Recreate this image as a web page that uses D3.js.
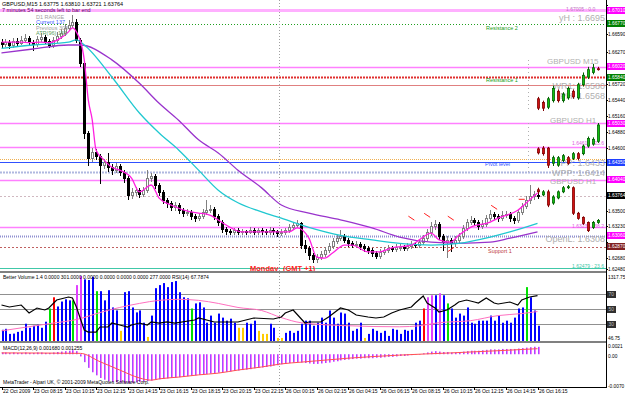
<!DOCTYPE html>
<html>
<head>
<meta charset="utf-8">
<script src="https://cdn.jsdelivr.net/npm/d3@7"></script>
<style>
body { margin: 0; background: #fff; }
svg { display: block; font-family: "Liberation Sans", Arial, sans-serif; }
</style>
</head>
<body>
<svg id="chart" width="625" height="393"></svg>
<script>

// ---- GBPUSD M15 candles ----
var opens = [1.6645,1.6642,1.6645,1.6640,1.6647,1.6644,1.6649,1.6652,1.6645,1.6642,
	1.6650,1.6654,1.6647,1.6640,1.6649,1.6656,1.6661,1.6670,1.6675,1.6680,
	1.6649,1.6608,1.6486,1.6442,1.6453,1.6446,1.6430,1.6435,1.6426,1.6421,
	1.6428,1.6418,1.6407,1.6377,1.6383,1.6386,1.6379,1.6386,1.6407,1.6411,
	1.6395,1.6383,1.6369,1.6363,1.6356,1.6360,1.6351,1.6346,1.6348,1.6341,
	1.6337,1.6341,1.6348,1.6351,1.6353,1.6341,1.6330,1.6318,1.6314,1.6313,
	1.6316,1.6313,1.6314,1.6313,1.6316,1.6313,1.6316,1.6314,1.6313,1.6316,
	1.6314,1.6311,1.6313,1.6316,1.6321,1.6325,1.6328,1.6290,1.6285,1.6272,
	1.6265,1.6269,1.6274,1.6281,1.6288,1.6297,1.6302,1.6306,1.6299,1.6293,
	1.6290,1.6292,1.6288,1.6285,1.6281,1.6276,1.6271,1.6278,1.6281,1.6285,
	1.6283,1.6286,1.6287,1.6285,1.6288,1.6292,1.6290,1.6295,1.6302,1.6313,
	1.6323,1.6327,1.6306,1.6295,1.6299,1.6293,1.6299,1.6306,1.6320,1.6330,
	1.6334,1.6330,1.6323,1.6327,1.6337,1.6344,1.6341,1.6337,1.6343,1.6344,
	1.6337,1.6334,1.6348,1.6358,1.6369,1.6376,1.63775];
var closes = [1.6642,1.6645,1.6640,1.6647,1.6644,1.6649,1.6652,1.6645,1.6642,1.6650,
	1.6654,1.6647,1.6640,1.6649,1.6656,1.6661,1.6670,1.6675,1.6680,1.6649,
	1.6608,1.6486,1.6442,1.6453,1.6446,1.6430,1.6435,1.6426,1.6421,1.6428,
	1.6418,1.6407,1.6377,1.6383,1.6386,1.6379,1.6386,1.6407,1.6411,1.6395,
	1.6383,1.6369,1.6363,1.6356,1.6360,1.6351,1.6346,1.6348,1.6341,1.6337,
	1.6341,1.6348,1.6351,1.6353,1.6341,1.6330,1.6318,1.6314,1.6313,1.6316,
	1.6313,1.6314,1.6313,1.6316,1.6313,1.6316,1.6314,1.6313,1.6316,1.6314,
	1.6311,1.6313,1.6316,1.6321,1.6325,1.6328,1.6290,1.6285,1.6272,1.6265,
	1.6269,1.6274,1.6281,1.6288,1.6297,1.6302,1.6306,1.6299,1.6293,1.6290,
	1.6292,1.6288,1.6285,1.6281,1.6276,1.6271,1.6278,1.6281,1.6285,1.6283,
	1.6286,1.6287,1.6285,1.6288,1.6292,1.6290,1.6295,1.6302,1.6313,1.6323,
	1.6327,1.6306,1.6295,1.6299,1.6293,1.6299,1.6306,1.6320,1.6330,1.6334,
	1.6330,1.6323,1.6327,1.6337,1.6344,1.6341,1.6337,1.6343,1.6344,1.6337,
	1.6334,1.6348,1.6358,1.6369,1.6376,1.6379,1.63764];
var highs = [1.6650,1.6651,1.6649,1.6653,1.6652,1.6655,1.6660,1.6656,1.6648,1.6655,
	1.6661,1.6657,1.6650,1.6654,1.6662,1.6668,1.6676,1.6683,1.6693,1.6686,
	1.6652,1.6611,1.6490,1.6460,1.6458,1.6450,1.6441,1.6451,1.6431,1.6434,
	1.6432,1.6422,1.6410,1.6389,1.6392,1.6390,1.6391,1.6421,1.6416,1.6414,
	1.6398,1.6386,1.6373,1.6367,1.6366,1.6363,1.6355,1.6353,1.6351,1.6345,
	1.6346,1.6353,1.6369,1.6360,1.6356,1.6344,1.6333,1.6321,1.6318,1.6320,
	1.6319,1.6318,1.6317,1.6321,1.6319,1.6320,1.6319,1.6318,1.6322,1.6319,
	1.6317,1.6318,1.6320,1.6326,1.6330,1.6334,1.6331,1.6299,1.6288,1.6276,
	1.6274,1.6279,1.6286,1.6293,1.6303,1.6308,1.6316,1.6310,1.6302,1.6297,
	1.6297,1.6295,1.6291,1.6288,1.6284,1.6279,1.6283,1.6286,1.6290,1.6288,
	1.6291,1.6292,1.6290,1.6293,1.6297,1.6296,1.6301,1.6308,1.6318,1.6330,
	1.6334,1.6330,1.6309,1.6305,1.6303,1.6305,1.6311,1.6325,1.6336,1.6340,
	1.6338,1.6334,1.6333,1.6343,1.6351,1.6348,1.6345,1.6349,1.6350,1.6348,
	1.6341,1.6353,1.6364,1.6375,1.6395,1.6384,1.6381];
var lows = [1.6637,1.6638,1.6635,1.6637,1.6640,1.6641,1.6646,1.6642,1.6632,1.6639,
	1.6647,1.6644,1.6636,1.6637,1.6646,1.6652,1.6658,1.6666,1.6671,1.6645,
	1.6603,1.6478,1.6430,1.6437,1.6440,1.6398,1.6424,1.6420,1.6414,1.6417,
	1.6412,1.6401,1.6371,1.6372,1.6378,1.6374,1.6375,1.6383,1.6402,1.6390,
	1.6378,1.6363,1.6357,1.6351,1.6352,1.6346,1.6341,1.6342,1.6336,1.6332,
	1.6333,1.6338,1.6345,1.6347,1.6336,1.6325,1.6313,1.6310,1.6309,1.6310,
	1.6309,1.6310,1.6309,1.6311,1.6309,1.6310,1.6310,1.6309,1.6310,1.6310,
	1.6306,1.6308,1.6310,1.6312,1.6318,1.6321,1.6285,1.6278,1.6266,1.6260,
	1.6261,1.6265,1.6270,1.6277,1.6284,1.6293,1.6298,1.6295,1.6288,1.6286,
	1.6286,1.6283,1.6280,1.6276,1.6271,1.6267,1.6268,1.6275,1.6278,1.6279,
	1.6280,1.6282,1.6281,1.6282,1.6285,1.6286,1.6287,1.6291,1.6298,1.6308,
	1.6318,1.6300,1.6282,1.6269,1.6280,1.6288,1.6294,1.6302,1.6316,1.6326,
	1.6325,1.6318,1.6319,1.6323,1.6333,1.6336,1.6332,1.6333,1.6339,1.6332,
	1.6329,1.6330,1.6344,1.6354,1.6364,1.6371,1.63721];

// moving averages, read at some bars: [bar, price]
var maFast = [[0,1.6645],[5,1.6645],[7,1.6644],[10,1.6645],[12,1.6644],[15,1.6652],[17,1.6663],[18,1.6670],
	[19,1.6663],[21,1.6614],[22,1.6545],[23,1.6510],[24,1.6456],[26,1.6439],[28,1.6426],[30,1.6421],
	[33,1.6407],[35,1.6383],[38,1.6395],[40,1.6372],[43,1.6360],[48,1.6348],[50,1.6346],[53,1.6342],
	[57,1.6325],[61,1.6313],[66,1.6313],[73,1.6313],[75,1.6320],[78,1.6302],[80,1.6269],[82,1.6267],
	[84,1.6276],[87,1.6290],[89,1.6290],[93,1.6278],[96,1.6278],[99,1.6285],[104,1.6290],[106,1.6299],
	[109,1.6311],[111,1.6299],[114,1.6295],[116,1.6307],[119,1.6321],[124,1.6330],[126,1.6337],
	[131,1.6351],[134,1.6369],[136,1.6381]];
var maMid = [[0,1.6634],[8,1.6640],[17,1.6645],[19,1.6649],[21,1.6640],[28,1.6584],[35,1.6521],
	[40,1.6486],[45,1.6456],[50,1.6421],[55,1.6386],[60,1.6364],[66,1.6348],[71,1.6337],[78,1.6321],
	[86,1.6307],[94,1.6299],[101,1.6293],[109,1.6290],[116,1.6293],[124,1.6304],[129,1.6313],[136,1.6328]];
var maSlow = [[0,1.6626],[8,1.6633],[17,1.6640],[20,1.6640],[28,1.6614],[35,1.6573],[40,1.6538],
	[45,1.6508],[50,1.6474],[55,1.6451],[60,1.6421],[66,1.6390],[71,1.6360],[78,1.6346],[86,1.6334],
	[94,1.6320],[101,1.6304],[109,1.6295],[116,1.6293],[124,1.6295],[129,1.6302],[136,1.6313]];

// red signal marks: bar, price, direction
var signalBars = [104, 108, 114, 114, 125, 132];
var signalPrices = [1.6337, 1.6342, 1.6337, 1.6282, 1.6356, 1.6370];
var signalDirs = ['down', 'down', 'down', 'up', 'down', 'flat'];

// horizontal levels
var levelNames = ['fib0', 'r2', 'fibA', 'r1', 'wr1', 'fibB', 'fibC', 'ppo', 'pp', 'wpp', 'fibD', 'bid', 'fibE', 'openL', 's1', 'fibF'];
var levelPrices = [1.6701, 1.6677, 1.6602, 1.6584, 1.6570, 1.6503, 1.6462, 1.6440, 1.6435, 1.6418, 1.6404, 1.63764, 1.6322, 1.6306, 1.6287, 1.6250];

// right axis
var priceTicks = [1.67100, 1.66830, 1.66590, 1.66270, 1.66000, 1.65720, 1.65440, 1.65160, 1.64880, 1.64600,
	1.64320, 1.64040, 1.63760, 1.63500, 1.63230, 1.62960, 1.62680, 1.62480];
var timeLabels = ['22 Oct 2009', '23 Oct 08:15', '23 Oct 10:15', '23 Oct 12:15', '23 Oct 14:15', '23 Oct 16:15',
	'23 Oct 18:15', '23 Oct 20:15', '23 Oct 22:15', '26 Oct 00:15', '26 Oct 02:15', '26 Oct 04:15',
	'26 Oct 06:15', '26 Oct 08:15', '26 Oct 10:15', '26 Oct 12:15', '26 Oct 14:15', '26 Oct 16:15'];
var timeLabelBars = [0, 8, 16, 24, 32, 40, 48, 56, 64, 72, 80, 88, 96, 104, 112, 120, 128, 136];
var mondayBar = 70.5;

// ---- Better Volume ----
var volumes = [227,247,144,150,185,206,350,268,309,330,
	268,391,659,886,700,800,845,824,824,1133,
	1317,1250,1236,1300,1010,1010,824,1030,680,620,
	206,990,1010,680,580,620,371,82,515,1071,
	1133,1174,1092,1195,1215,989,886,865,659,762,
	783,680,371,515,371,556,474,412,453,371,
	268,268,371,350,412,206,144,144,350,268,
	62,62,165,206,165,206,350,412,412,309,
	371,474,371,618,474,350,577,556,371,206,
	247,371,62,144,247,206,165,206,103,247,
	227,144,227,206,227,371,412,659,886,927,
	927,968,927,762,659,474,556,515,680,371,
	350,412,412,412,515,412,515,371,412,371,
	474,659,680,1092,886,618,309];
var lowVolBars = [30, 37, 60, 61, 65, 66, 67, 70, 71, 92];
var climaxHighBars = [13, 107];
var churnBars = [12, 18, 24, 48, 113, 133];
var climaxChurnBars = [19, 20, 108, 109, 111];
var volAvg = [[0,206],[12,350],[20,453],[25,577],[30,680],[35,762],[40,824],[45,845],[50,824],[55,762],
	[60,680],[66,618],[71,474],[76,371],[88,309],[101,288],[106,309],[111,371],[119,412],[126,515],[132,556],[136,597]];
var rsi = [[0,55.3],[2,52.7],[5,55.3],[7,44.7],[9,51.3],[11,48.7],[12,51.3],[14,62],[16,64.7],[17,66],
	[18,64.7],[19,52.7],[21,22],[22,19.3],[24,19.3],[25,26],[27,26],[28,31.3],[30,28.7],[32,26],
	[33,28.7],[35,31.3],[37,28.7],[38,32.7],[40,31.3],[42,32.7],[44,31.3],[49,35.3],[50,38],[54,32.7],
	[60,32.7],[64,38],[69,36.7],[71,39.3],[72,44.7],[74,48.7],[77,31.3],[78,32.7],[81,32.7],[83,39.3],
	[86,51.3],[88,48.7],[90,42],[93,39.3],[95,38],[97,39.3],[99,44.7],[101,48.7],[104,52.7],[105,58],
	[107,67.3],[108,58],[110,51.3],[111,46],[113,48.7],[115,55.3],[116,59.3],[118,62],[120,59.3],[121,58],
	[123,64.7],[125,58],[126,56.7],[129,59.3],[131,55.3],[132,62],[134,66],[136,67.8]];
var rsiLevels = [70, 50, 30];

// ---- MACD(12,26,9) ----
var macd = [0.0004,0.0004,0.0003,0.0004,0.0003,0.0003,0.0004,0.0003,0.0003,0.0004,
	0.0004,0.0003,0.0003,0.0004,0.0005,0.0006,0.0007,0.0008,0.0009,0.0007,
	-0.0005,-0.0018,-0.0031,-0.0041,-0.0048,-0.0054,-0.0058,-0.0061,-0.0063,-0.0064,
	-0.0065,-0.0066,-0.0066,-0.0065,-0.0064,-0.0063,-0.0062,-0.0061,-0.0060,-0.0058,
	-0.0057,-0.0056,-0.0055,-0.0054,-0.0053,-0.0052,-0.0051,-0.0050,-0.0049,-0.0048,
	-0.0047,-0.0046,-0.0045,-0.0044,-0.0043,-0.0042,-0.0041,-0.0040,-0.0039,-0.0038,
	-0.0037,-0.0036,-0.0035,-0.0034,-0.0032,-0.0031,-0.0030,-0.0029,-0.0028,-0.0026,
	-0.0025,-0.0023,-0.0022,-0.0020,-0.0019,-0.0018,-0.0019,-0.0020,-0.0021,-0.0022,
	-0.0022,-0.0021,-0.0020,-0.0019,-0.0017,-0.0016,-0.0014,-0.0013,-0.0012,-0.0011,
	-0.0010,-0.0010,-0.0009,-0.0009,-0.0009,-0.0008,-0.0008,-0.0007,-0.0006,-0.0006,
	-0.0005,-0.0004,-0.0004,-0.0003,-0.0002,-0.0001,0.0000,0.0002,0.0004,0.0006,
	0.0007,0.0006,0.0005,0.0005,0.0004,0.0004,0.0005,0.0006,0.0007,0.0008,
	0.0008,0.0008,0.0009,0.0010,0.0011,0.0011,0.0011,0.0012,0.0012,0.0012,
	0.0012,0.0013,0.0014,0.0015,0.0016,0.0017,0.00168];
var macdSignal = [[0,0.0003],[20,0.0002],[25,-0.0017],[30,-0.0036],[35,-0.0054],[38,-0.0059],[40,-0.0056],
	[45,-0.0052],[50,-0.0047],[55,-0.0043],[60,-0.0036],[66,-0.0029],[71,-0.0022],[76,-0.0018],[80,-0.0015],
	[88,-0.0009],[101,-0.0002],[114,0.0003],[126,0.0008],[136,0.00126]];

// ---- small multi timeframe charts on the right ----
var m15Open  = [1.6318,1.6310,1.6300,1.6314,1.6334,1.6314,1.6320,1.6334,1.6320,1.6348,1.6364,1.6374,1.6382];
var m15Close = [1.6298,1.6298,1.6318,1.6340,1.6314,1.6328,1.6340,1.6322,1.6348,1.6368,1.6380,1.6384,1.6380];
var m15High  = [1.6322,1.6314,1.6322,1.6346,1.6338,1.6332,1.6344,1.6338,1.6352,1.6374,1.6386,1.6392,1.6386];
var m15Low   = [1.6294,1.6292,1.6296,1.6310,1.6310,1.6310,1.6316,1.6318,1.6316,1.6344,1.6360,1.6370,1.6378];
var h1Open  = [1.6323,1.6325,1.6325,1.6287,1.6282,1.6294,1.6301,1.6299,1.6311,1.6311,1.6330,1.6335,1.6342];
var h1Close = [1.6313,1.6311,1.6282,1.6301,1.6301,1.6306,1.6287,1.6311,1.6299,1.6330,1.6349,1.6347,1.6383];
var h1High  = [1.6327,1.6330,1.6328,1.6306,1.6305,1.6310,1.6305,1.6315,1.6315,1.6334,1.6354,1.6352,1.6388];
var h1Low   = [1.6309,1.6306,1.6275,1.6280,1.6278,1.6290,1.6283,1.6295,1.6294,1.6307,1.6326,1.6331,1.6338];
var h4Open  = [1.6396,1.6381,1.6390,1.6357,1.6372,1.6390,1.6402,1.6402,1.6327,1.6315,1.6300,1.6285,1.6300];
var h4Close = [1.6390,1.6390,1.6351,1.6375,1.6390,1.6402,1.6405,1.6327,1.6312,1.6297,1.6276,1.6300,1.6306];
var h4High  = [1.6402,1.6395,1.6396,1.6380,1.6394,1.6407,1.6410,1.6406,1.6331,1.6318,1.6303,1.6304,1.6310];
var h4Low   = [1.6384,1.6377,1.6345,1.6352,1.6368,1.6386,1.6398,1.6322,1.6308,1.6293,1.6272,1.6281,1.6296];


var svg = d3.select('#chart');
var AX = 606;
var fmt5 = d3.format('.5f');

var x = d3.scaleLinear().domain([0, 136]).range([1.5, 537.5]);
var yMain = d3.scaleLinear().domain([1.62463, 1.6710]).range([270, 5]);
var yVol = d3.scaleLinear().domain([0, 1317.75]).range([341, 276]);
var yRsi = d3.scaleLinear().domain([0, 100]).range([346.5, 271.5]);
var yMacd = d3.scaleLinear().domain([-0.0070, 0.0021]).range([385, 345]);
var xMini = d3.scaleLinear().domain([0, 12]).range([538, 598]);

function cx(i) { return Math.round(x(i)); }

var defs = svg.append('defs');
defs.append('clipPath').attr('id', 'clipMain').append('rect').attr('x', 0).attr('y', 0).attr('width', AX).attr('height', 271);
defs.append('clipPath').attr('id', 'clipVol').append('rect').attr('x', 0).attr('y', 273).attr('width', AX).attr('height', 68);
defs.append('clipPath').attr('id', 'clipMacd').append('rect').attr('x', 0).attr('y', 343).attr('width', AX).attr('height', 44);

var main = svg.append('g').attr('clip-path', 'url(#clipMain)');

// level lines
var levelStyle = {
	fib0:  {stroke: '#ffb0ff', width: 3, dash: null},
	r2:    {stroke: '#20a020', width: 1, dash: '1,2'},
	fibA:  {stroke: '#ff80ff', width: 1.5, dash: null},
	r1:    {stroke: '#e03030', width: 2, dash: '2,1'},
	wr1:   {stroke: '#e08080', width: 1, dash: null},
	fibB:  {stroke: '#ff80ff', width: 1.5, dash: null},
	fibC:  {stroke: '#ff80ff', width: 1.5, dash: null},
	ppo:   {stroke: '#f0b050', width: 1, dash: '1,1'},
	pp:    {stroke: '#3050ff', width: 1, dash: null},
	wpp:   {stroke: '#b0b8e0', width: 2, dash: '2,1'},
	fibD:  {stroke: '#ff80ff', width: 1.5, dash: null},
	bid:   {stroke: '#d0b8c0', width: 1, dash: '2,2'},
	fibE:  {stroke: '#ff80ff', width: 1.5, dash: null},
	openL: {stroke: '#9090d0', width: 2, dash: '1,1'},
	s1:    {stroke: '#c06060', width: 1, dash: '2,2'},
	fibF:  {stroke: '#40c8a8', width: 1, dash: null}
};

main.selectAll('line.level')
	.data(levelNames)
	.join('line')
	.attr('class', 'level')
	.attr('x1', 0)
	.attr('x2', AX)
	.attr('y1', function (d, i) { return Math.round(yMain(levelPrices[i])) + 0.5; })
	.attr('y2', function (d, i) { return Math.round(yMain(levelPrices[i])) + 0.5; })
	.attr('stroke', function (d) { return levelStyle[d].stroke; })
	.attr('stroke-width', function (d) { return levelStyle[d].width; })
	.attr('stroke-dasharray', function (d) { return levelStyle[d].dash; });

// monday separator
svg.append('line')
	.attr('x1', Math.round(x(mondayBar)) + 0.5)
	.attr('x2', Math.round(x(mondayBar)) + 0.5)
	.attr('y1', 0)
	.attr('y2', 387)
	.attr('stroke', '#a0a0a0')
	.attr('stroke-dasharray', '1,2');

// level captions
var captions = [
	['Resistance 2', 486, 30, '#20a020'],
	['Resistance 1', 486, 82, '#20a020'],
	['Pivot level', 485, 166, '#3050ff'],
	['Support 1', 488, 253, '#c04040']
];
main.selectAll('text.cap')
	.data(captions)
	.join('text')
	.attr('x', function (d) { return d[1]; })
	.attr('y', function (d) { return d[2]; })
	.attr('fill', function (d) { return d[3]; })
	.attr('font-size', '5.5px')
	.text(function (d) { return d[0]; });

// big gray overlay texts (pivot panel), right aligned before the axis
var overlay = [
	['yH : 1.6695', 605, 21, 9, 'end'],
	['GBPUSD M15', 547, 64, 8, 'start'],
	['WR1: 1.6580', 605, 89, 9, 'end'],
	['PH: 1.6568', 605, 99, 9, 'end'],
	['GBPUSD H1', 550, 123, 8, 'start'],
	['PP: 1.6433', 605, 166, 9, 'end'],
	['WPP: 1.6414', 605, 176, 9, 'end'],
	['GBPUSD H1', 550, 184, 8, 'start'],
	['OpenL: 1.6308', 605, 242, 9, 'end']
];
main.selectAll('text.ov')
	.data(overlay)
	.join('text')
	.attr('x', function (d) { return d[1]; })
	.attr('y', function (d) { return d[2]; })
	.attr('font-size', function (d) { return d[3] + 'px'; })
	.attr('text-anchor', function (d) { return d[4]; })
	.attr('fill', '#b0b0b0')
	.text(function (d) { return d[0]; });

var fibText = [
	['1.67005 : 0.0', 566, 11, '#c070c0'],
	['1.64615 : 23.6', 572, 145, '#e060e0'],
	['1.63231 : 38.2', 572, 228, '#e060e0'],
	['1.62479 : 23.6', 572, 268, '#40c8a8']
];
main.selectAll('text.fib')
	.data(fibText)
	.join('text')
	.attr('x', function (d) { return d[1]; })
	.attr('y', function (d) { return d[2]; })
	.attr('fill', function (d) { return d[3]; })
	.attr('font-size', '5px')
	.text(function (d) { return d[0]; });

// dotted guides at the mini charts
main.selectAll('line.guide')
	.data([[60, 110], [123, 173]])
	.join('line')
	.attr('x1', 528.5).attr('x2', 528.5)
	.attr('y1', function (d) { return d[0]; })
	.attr('y2', function (d) { return d[1]; })
	.attr('stroke', '#b0b0b0')
	.attr('stroke-dasharray', '1,3');

// candles
var bars = d3.range(closes.length);
var candles = main.append('g');
candles.selectAll('line.wick')
	.data(bars)
	.join('line')
	.attr('x1', function (i) { return cx(i) + 0.5; })
	.attr('x2', function (i) { return cx(i) + 0.5; })
	.attr('y1', function (i) { return Math.round(yMain(highs[i])); })
	.attr('y2', function (i) { return Math.round(yMain(lows[i])) + 1; })
	.attr('stroke', function (i) { return closes[i] >= opens[i] ? '#808080' : '#000'; });
candles.selectAll('rect.body')
	.data(bars)
	.join('rect')
	.attr('x', function (i) { return cx(i) - 0.5; })
	.attr('y', function (i) { return Math.round(yMain(Math.max(opens[i], closes[i]))) + 0.5; })
	.attr('width', 2)
	.attr('height', function (i) {
		var h = Math.round(yMain(Math.min(opens[i], closes[i]))) - Math.round(yMain(Math.max(opens[i], closes[i])));
		return Math.max(h, 1);
	})
	.attr('fill', function (i) { return closes[i] >= opens[i] ? '#fff' : '#000'; })
	.attr('stroke', function (i) { return closes[i] >= opens[i] ? '#808080' : '#000'; });

// moving averages
var maLine = d3.line()
	.x(function (d) { return x(d[0]); })
	.y(function (d) { return yMain(d[1]); })
	.curve(d3.curveMonotoneX);
main.append('path').attr('d', maLine(maSlow)).attr('fill', 'none').attr('stroke', '#9933cc').attr('stroke-width', 1.3);
main.append('path').attr('d', maLine(maMid)).attr('fill', 'none').attr('stroke', '#20c8d0').attr('stroke-width', 1.3);
main.append('path').attr('d', maLine(maFast)).attr('fill', 'none').attr('stroke', '#ff20e0').attr('stroke-width', 1.3);

// red signal marks
main.selectAll('line.sig')
	.data(signalBars)
	.join('line')
	.attr('x1', function (b) { return x(b) - 3; })
	.attr('x2', function (b) { return x(b) + 3; })
	.attr('y1', function (b, i) { return yMain(signalPrices[i]) + (signalDirs[i] === 'up' ? 2 : signalDirs[i] === 'down' ? -2 : 0); })
	.attr('y2', function (b, i) { return yMain(signalPrices[i]) + (signalDirs[i] === 'up' ? -2 : signalDirs[i] === 'down' ? 2 : 0); })
	.attr('stroke', '#ff2020')
	.attr('stroke-width', 1);

// mini charts
function drawMini(o, c, h, l, top, bottom) {
	var y = d3.scaleLinear().domain([d3.min(l), d3.max(h)]).range([bottom, top]);
	var g = main.append('g');
	var idx = d3.range(o.length);
	g.selectAll('line')
		.data(idx)
		.join('line')
		.attr('x1', function (i) { return Math.round(xMini(i)) + 0.5; })
		.attr('x2', function (i) { return Math.round(xMini(i)) + 0.5; })
		.attr('y1', function (i) { return y(h[i]); })
		.attr('y2', function (i) { return y(l[i]); })
		.attr('stroke', function (i) { return c[i] >= o[i] ? '#006000' : '#800000'; });
	g.selectAll('rect')
		.data(idx)
		.join('rect')
		.attr('x', function (i) { return Math.round(xMini(i)) - 0.5; })
		.attr('y', function (i) { return y(Math.max(o[i], c[i])); })
		.attr('width', 2)
		.attr('height', function (i) { return Math.max(1, Math.abs(y(o[i]) - y(c[i]))); })
		.attr('fill', function (i) { return c[i] >= o[i] ? '#10c010' : '#d01010'; })
		.attr('stroke', function (i) { return c[i] >= o[i] ? '#006000' : '#800000'; })
		.attr('stroke-width', 0.8);
}
drawMini(m15Open, m15Close, m15High, m15Low, 64, 111);
drawMini(h1Open, h1Close, h1High, h1Low, 123, 168);
drawMini(h4Open, h4Close, h4High, h4Low, 185, 232);

// header
svg.append('text').attr('x', 2).attr('y', 6).attr('font-size', '5.5px').attr('fill', '#000')
	.text('GBPUSD,M15  1.63775 1.63810 1.63721 1.63764');
svg.append('text').attr('x', 2).attr('y', 12).attr('font-size', '5.5px').attr('fill', '#600060')
	.text('7 minutes 54 seconds left to bar end');

var rangeBox = [
	['D1 RANGE', '#a0a0a0', 18.5],
	['Current 137', '#4060ff', 24],
	['Previous 308', '#a0a0a0', 29.5],
	['ATR(96) 163', '#60a060', 35]
];
svg.selectAll('text.rng')
	.data(rangeBox)
	.join('text')
	.attr('x', 36)
	.attr('y', function (d) { return d[2]; })
	.attr('fill', function (d) { return d[1]; })
	.attr('font-size', '5.5px')
	.text(function (d) { return d[0]; });

svg.append('text').attr('x', 250).attr('y', 271).attr('font-size', '7.5px').attr('font-weight', 'bold')
	.attr('fill', '#ff2020').text('Monday');
svg.append('text').attr('x', 283).attr('y', 271).attr('font-size', '7.5px').attr('font-weight', 'bold')
	.attr('fill', '#ff2020').text('(GMT +1)');

// ---- volume panel ----
var vol = svg.append('g').attr('clip-path', 'url(#clipVol)');
vol.selectAll('line.rsilvl')
	.data(rsiLevels)
	.join('line')
	.attr('x1', 0).attr('x2', AX)
	.attr('y1', function (d) { return Math.round(yRsi(d)) + 0.5; })
	.attr('y2', function (d) { return Math.round(yRsi(d)) + 0.5; })
	.attr('stroke', '#909090');

var volColor = function (i) {
	if (climaxHighBars.indexOf(i) >= 0) return '#ff0000';
	if (climaxChurnBars.indexOf(i) >= 0) return '#e040ff';
	if (churnBars.indexOf(i) >= 0) return '#00e000';
	if (lowVolBars.indexOf(i) >= 0) return '#ffcc00';
	return '#0000ff';
};
vol.selectAll('rect.vbar')
	.data(bars)
	.join('rect')
	.attr('x', function (i) { return cx(i); })
	.attr('y', function (i) { return yVol(volumes[i]); })
	.attr('width', 2)
	.attr('height', function (i) { return 341 - yVol(volumes[i]); })
	.attr('fill', volColor);

var volLine = d3.line()
	.x(function (d) { return x(d[0]); })
	.y(function (d) { return yVol(d[1]); })
	.curve(d3.curveMonotoneX);
vol.append('path').attr('d', volLine(volAvg)).attr('fill', 'none').attr('stroke', '#ff70c0').attr('stroke-width', 1);

var rsiLine = d3.line()
	.x(function (d) { return x(d[0]); })
	.y(function (d) { return yRsi(d[1]); });
vol.append('path').attr('d', rsiLine(rsi)).attr('fill', 'none').attr('stroke', '#000').attr('stroke-width', 1.2);

svg.append('text').attr('x', 3).attr('y', 279).attr('font-size', '5px').attr('fill', '#000')
	.text('Better Volume 1.4 0.0000 301.0000 0.0000 0.0000 0.0000 0.0000 277.0000  RSI(14) 67.7874');

// ---- MACD panel: histogram as a violet and a magenta pixel column ----
var mg = svg.append('g').attr('clip-path', 'url(#clipMacd)');
[['#a050ff', 0], ['#ff70ff', 1]].forEach(function (col) {
	mg.selectAll('rect.m' + col[1])
		.data(bars)
		.join('rect')
		.attr('x', function (i) { return cx(i) + col[1]; })
		.attr('y', function (i) { return Math.min(yMacd(0), yMacd(macd[i])); })
		.attr('width', 1)
		.attr('height', function (i) { return Math.max(0.5, Math.abs(yMacd(macd[i]) - yMacd(0))); })
		.attr('fill', col[0]);
});
var sigLine = d3.line()
	.x(function (d) { return x(d[0]); })
	.y(function (d) { return yMacd(d[1]); })
	.curve(d3.curveMonotoneX);
mg.append('path').attr('d', sigLine(macdSignal)).attr('fill', 'none').attr('stroke', '#ff5050').attr('stroke-width', 1);

svg.append('text').attr('x', 3).attr('y', 350).attr('font-size', '5px').attr('fill', '#000')
	.text('MACD(12,26,9) 0.001680 0.001255');
svg.append('text').attr('x', 3).attr('y', 384).attr('font-size', '5px').attr('fill', '#000')
	.text('MetaTrader - Alpari UK, \u00a9 2001-2009 MetaQuotes Software Corp.');

// ---- frames ----
svg.append('rect').attr('x', 0).attr('y', 271).attr('width', AX).attr('height', 2).attr('fill', '#808080');
svg.append('rect').attr('x', 0).attr('y', 341).attr('width', AX).attr('height', 2).attr('fill', '#808080');
svg.append('line').attr('x1', AX + 0.5).attr('x2', AX + 0.5).attr('y1', 0).attr('y2', 388).attr('stroke', '#000');
svg.append('line').attr('x1', 0).attr('x2', AX + 1).attr('y1', 387.5).attr('y2', 387.5).attr('stroke', '#000');

// ---- right axis ----
var boxColor = {fib0: '#ff00ff', r2: '#008000', fibA: '#ff00ff', r1: '#008000', fibB: '#ff00ff',
	pp: '#2040ff', fibD: '#ff00ff', bid: '#000000', openL: '#ff00ff', s1: '#802020'};
var boxed = levelNames.filter(function (n) { return boxColor[n]; });
var boxY = boxed.map(function (n) { return yMain(levelPrices[levelNames.indexOf(n)]); });
// MT4 hides the plain price labels that sit under a coloured box
var shownTicks = priceTicks.filter(function (p) {
	return boxY.every(function (b) { return Math.abs(yMain(p) - b) > 6; });
});

var rax = svg.append('g').attr('font-size', '4.8px').attr('fill', '#000');
rax.selectAll('text.pt')
	.data(shownTicks)
	.join('text')
	.attr('x', 608)
	.attr('y', function (d) { return yMain(d) + 2; })
	.text(fmt5);
rax.selectAll('line.pt')
	.data(priceTicks)
	.join('line')
	.attr('x1', AX).attr('x2', AX + 2)
	.attr('y1', function (d) { return Math.round(yMain(d)) + 0.5; })
	.attr('y2', function (d) { return Math.round(yMain(d)) + 0.5; })
	.attr('stroke', '#000');

var boxG = rax.selectAll('g.box')
	.data(boxed)
	.join('g')
	.attr('transform', function (n, i) { return 'translate(607,' + Math.round(boxY[i] - 3.5) + ')'; });
boxG.append('rect').attr('width', 18).attr('height', 7).attr('fill', function (n) { return boxColor[n]; });
boxG.append('text').attr('x', 1).attr('y', 5.3).attr('fill', '#fff')
	.text(function (n) { return fmt5(levelPrices[levelNames.indexOf(n)]); });

// volume / rsi axis
rax.append('text').attr('x', 608).attr('y', 279).text('1317.75');
rax.append('text').attr('x', 608).attr('y', 340).text('46.75');
var rsiBox = rax.selectAll('g.rbox')
	.data(rsiLevels)
	.join('g')
	.attr('transform', function (d) { return 'translate(607,' + Math.round(yRsi(d) - 3.5) + ')'; });
rsiBox.append('rect').attr('width', 9).attr('height', 7).attr('fill', '#303030');
rsiBox.append('text').attr('x', 1.5).attr('y', 5.3).attr('fill', '#c0c0c0').text(function (d) { return d; });

// macd axis
var macdTicks = [0.0021, 0, -0.0070];
var macdTickText = ['0.0021', '0.00', '-0.0070'];
rax.selectAll('text.mt')
	.data(macdTicks)
	.join('text')
	.attr('x', 608)
	.attr('y', function (d, i) { return yMacd(d) + (i === 1 ? 4 : 3); })
	.text(function (d, i) { return macdTickText[i]; });

// ---- time axis ----
var tax = svg.append('g').attr('font-size', '5px').attr('fill', '#000');
tax.selectAll('line')
	.data(timeLabelBars)
	.join('line')
	.attr('x1', function (b) { return cx(b) + 0.5; })
	.attr('x2', function (b) { return cx(b) + 0.5; })
	.attr('y1', 387).attr('y2', 390)
	.attr('stroke', '#000');
tax.selectAll('text')
	.data(timeLabelBars)
	.join('text')
	.attr('x', function (b) { return cx(b) + 1; })
	.attr('y', 392.5)
	.text(function (b, i) { return timeLabels[i]; });

</script>
</body>
</html>
